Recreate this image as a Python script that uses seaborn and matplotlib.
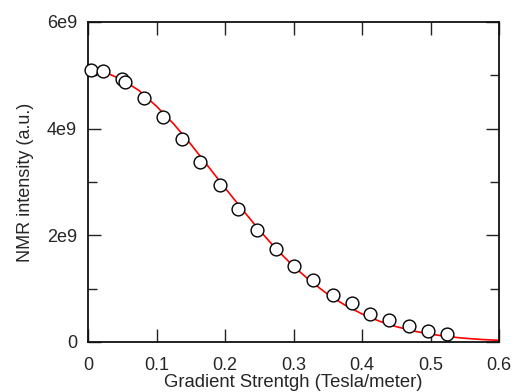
import matplotlib
matplotlib.use("Agg")
import matplotlib.pyplot as plt
import seaborn as sns
import pandas as pd
from matplotlib.ticker import MultipleLocator

# measured data points
gradient = [0.004, 0.0215, 0.049, 0.054, 0.082, 0.109, 0.137, 0.164, 0.192, 0.219,
            0.246, 0.274, 0.301, 0.329, 0.357, 0.385, 0.412, 0.440, 0.468, 0.496, 0.524]
intensity = [5.10e9, 5.09e9, 4.94e9, 4.88e9, 4.58e9, 4.21e9, 3.80e9, 3.37e9, 2.94e9, 2.49e9,
             2.10e9, 1.74e9, 1.43e9, 1.16e9, 0.876e9, 0.726e9, 0.53e9, 0.41e9, 0.30e9, 0.21e9, 0.156e9]

# fitted curve
fit_x = [0.0, 0.025, 0.05, 0.075, 0.1, 0.125, 0.15, 0.175, 0.2, 0.225, 0.25, 0.275, 0.3,
         0.325, 0.35, 0.375, 0.4, 0.425, 0.45, 0.475, 0.5, 0.525, 0.55, 0.575, 0.6]
fit_y = [5.10e9, 5.055e9, 4.92e9, 4.71e9, 4.42e9, 4.09e9, 3.71e9, 3.30e9, 2.89e9, 2.49e9,
         2.10e9, 1.74e9, 1.42e9, 1.14e9, 0.895e9, 0.693e9, 0.526e9, 0.392e9, 0.288e9,
         0.207e9, 0.147e9, 0.102e9, 0.070e9, 0.047e9, 0.031e9]

x_ticks = [0, 0.1, 0.2, 0.3, 0.4, 0.5, 0.6]
y_ticks = [0, 2e9, 4e9, 6e9]
y_tick_labels = ["0", "2e9", "4e9", "6e9"]
x_tick_labels = ["0", "0.1", "0.2", "0.3", "0.4", "0.5", "0.6"]

sns.set_style("ticks")
plt.rcParams['font.family'] = ['Liberation Sans', 'DejaVu Sans']

fig = plt.figure(figsize=(5.14, 3.92), dpi=100)
ax = fig.add_axes([88/514, 50/392, 411/514, 320/392])

df_fit = pd.DataFrame({"x": fit_x, "y": fit_y})
df_pts = pd.DataFrame({"x": gradient, "y": intensity})

sns.lineplot(data=df_fit, x="x", y="y", color="#ff0000", linewidth=1.2, ax=ax, zorder=2)
sns.scatterplot(data=df_pts, x="x", y="y", s=85, facecolor="white", edgecolor="black",
                linewidth=1.0, ax=ax, zorder=3, clip_on=False)

ax.set_xlim(0, 0.6)
ax.set_ylim(0, 6e9)
ax.set_xticks(x_ticks)
ax.set_xticklabels(x_tick_labels)
ax.set_yticks(y_ticks)
ax.set_yticklabels(y_tick_labels)
ax.yaxis.set_minor_locator(MultipleLocator(1e9))

ax.tick_params(which="both", direction="in", top=True, right=True, labelsize=13,
               color="#222222", width=1.0)
ax.tick_params(which="major", length=9.3)
ax.tick_params(which="minor", length=6.3)
ax.tick_params(axis="x", which="major", pad=10.5)
ax.tick_params(axis="y", which="major", pad=8)

for sp in ax.spines.values():
    sp.set_linewidth(1.3)
    sp.set_color("#111111")

ax.set_xlabel("Gradient Strentgh (Tesla/meter)", fontsize=13.3, labelpad=0.5)
ax.set_ylabel("NMR intensity (a.u.)", fontsize=13, labelpad=9)

fig.savefig("out.png", dpi=100)
